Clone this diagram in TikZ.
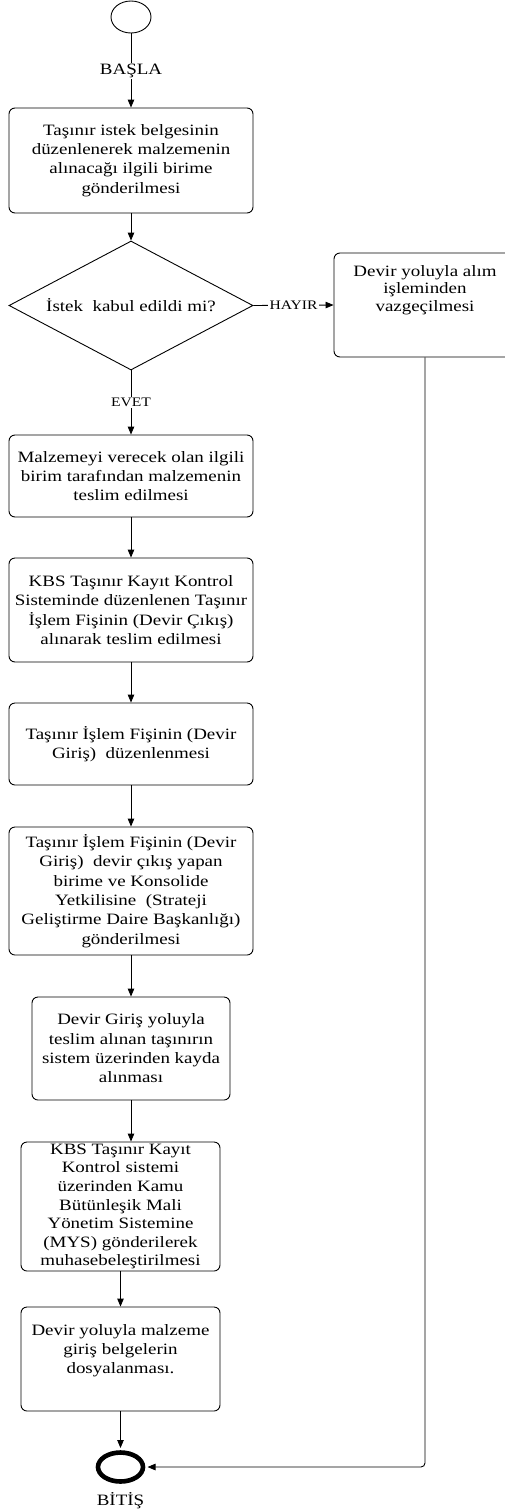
\documentclass[tikz,border=0pt]{standalone}
\usepackage{fontspec}
\setmainfont{Liberation Serif}[FakeStretch=1.2]
\usetikzlibrary{arrows.meta,shapes.geometric}
\tikzset{
  box/.style={draw, rounded corners=6pt, line width=0.9pt, inner sep=0pt, align=center},
  txt/.style={inner sep=0pt, align=center},
  arr/.style={-{Triangle[length=8pt,width=6.5pt]}, line width=0.9pt},
  lbl/.style={font=\fontsize{13}{15}\selectfont, fill=white, inner xsep=2pt, inner ysep=1pt},
}
\begin{document}
\begin{tikzpicture}[x=1pt, y=-1pt, font=\fontsize{15.8}{19.3}\selectfont]
\useasboundingbox (0,0) rectangle (505,1510);

% start and end
\node[draw, ellipse, line width=0.9pt, minimum width=40pt, minimum height=32pt, inner sep=0pt] (start) at (131,17) {};
\node[inner sep=1pt] (basla) at (131,71) {BAŞLA};
\node[draw, ellipse, line width=4.6pt, minimum width=45pt, minimum height=29pt, inner sep=0pt] (end) at (120.5,1467) {};
\node[inner sep=0pt] (bitis) at (120.5,1501) {BİTİŞ};

% process boxes
\node[box, minimum width=244pt, minimum height=105pt] (b1) at (131,160.5)
  {Taşınır istek belgesinin\\düzenlenerek malzemenin\\alınacağı ilgili birime\\gönderilmesi};
\node[draw, diamond, line width=0.9pt, minimum width=244pt, minimum height=129pt, aspect=1.89, inner sep=0pt] (dec) at (131,305.5)
  {İstek\ \ kabul edildi mi?};
\node[box, minimum width=182pt, minimum height=104pt] (r1) at (425,305) {};
\node[txt, anchor=north, font=\fontsize{15.8}{17.5}\selectfont] (r1t) at (425,265)
  {Devir yoluyla alım\\işleminden\\vazgeçilmesi};
\node[box, minimum width=244pt, minimum height=82pt] (b2) at (131,476)
  {Malzemeyi verecek olan ilgili\\birim tarafından malzemenin\\teslim edilmesi};
\node[box, minimum width=244pt, minimum height=104pt] (b3) at (131,610)
  {KBS Taşınır Kayıt Kontrol\\Sisteminde düzenlenen Taşınır\\İşlem Fişinin (Devir Çıkış)\\alınarak teslim edilmesi};
\node[box, minimum width=244pt, minimum height=82pt] (b4) at (131,744)
  {Taşınır İşlem Fişinin (Devir\\Giriş)\ \ düzenlenmesi};
\node[box, minimum width=244pt, minimum height=128pt] (b5) at (131,891)
  {Taşınır İşlem Fişinin (Devir\\Giriş)\ \ devir çıkış yapan\\birime ve Konsolide\\Yetkilisine\ \ (Strateji\\Geliştirme Daire Başkanlığı)\\gönderilmesi};
\node[box, minimum width=198pt, minimum height=103pt] (b6) at (131,1048.5)
  {Devir Giriş yoluyla\\teslim alınan taşınırın\\sistem üzerinden kayda\\alınması};
\node[box, minimum width=199pt, minimum height=129pt, font=\fontsize{15.8}{18.6}\selectfont] (b7) at (120.5,1206.5)
  {KBS Taşınır Kayıt\\Kontrol sistemi\\üzerinden Kamu\\Bütünleşik Mali\\Yönetim Sistemine\\(MYS) gönderilerek\\muhasebeleştirilmesi};
\node[box, minimum width=199pt, minimum height=104pt] (b8) at (120.5,1359) {};
\node[txt, anchor=north] (b8t) at (120.5,1324)
  {Devir yoluyla malzeme\\giriş belgelerin\\dosyalanması.};

% connectors
\draw[line width=0.9pt] (start) -- (basla);
\draw[arr] (basla) -- (b1);
\draw[arr] (b1) -- (dec);
\draw[arr] (dec.east) -- node[lbl] {HAYIR} (r1.west);
\draw[arr] (dec.south) -- node[lbl] {EVET} (b2.north);
\draw[arr] (b2) -- (b3);
\draw[arr] (b3) -- (b4);
\draw[arr] (b4) -- (b5);
\draw[arr] (b5) -- (b6);
\draw[arr] (b6.south) -- (b6.south |- b7.north);
\draw[arr] (b7) -- (b8);
\draw[arr, shorten >=2.2pt] (b8) -- (end);
\draw[arr, rounded corners=4pt, shorten >=2.2pt] (r1.south) |- (end.east);
\end{tikzpicture}
\end{document}
